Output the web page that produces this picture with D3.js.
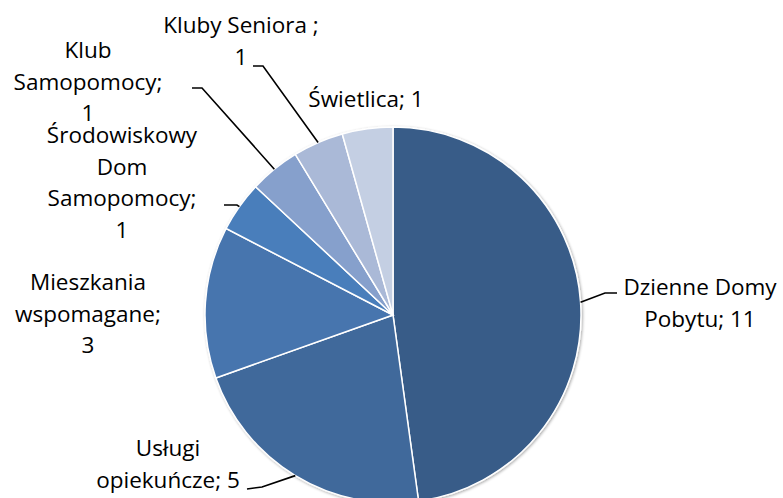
<!DOCTYPE html>
<html><head><meta charset="utf-8">
<script src="https://cdn.jsdelivr.net/npm/d3@7"></script>
<style>body{margin:0;background:#fff}svg{display:block}text{font-family:"Open Sans",sans-serif;fill:#000}</style>
</head><body>
<svg id="c" width="783" height="498"></svg>
<script>
const categories = ["Dzienne Domy Pobytu","Usługi opiekuńcze","Mieszkania wspomagane","Środowiskowy Dom Samopomocy","Klub Samopomocy","Kluby Seniora ","Świetlica"];
const values = [11,5,3,1,1,1,1];
const labelLines = [
  ["Dzienne Domy","Pobytu; 11"],
  ["Usługi","opiekuńcze; 5"],
  ["Mieszkania","wspomagane;","3"],
  ["Środowiskowy","Dom","Samopomocy;","1"],
  ["Klub","Samopomocy;","1"],
  ["Kluby Seniora ;","1"],
  ["Świetlica; 1"]
];
const colors = ["#375C88","#41699B","#4774AE","#4A7EBB","#86A0CC","#AAB9D7","#C4CFE3"];
// layout: label center x, first baseline y, leader elbow (x,y) or null
const labelLayout = [
  {x:700, y:295, elbow:[605,293], end:[617,293]},
  {x:168, y:456, elbow:[262,487], end:[247,489]},
  {x:88,  y:290, elbow:null},
  {x:122, y:143, elbow:[237,205], end:[224,205]},
  {x:88,  y:58,  elbow:[202,88],  end:[192,88]},
  {x:241, y:33,  elbow:[263,66],  end:[253,66]},
  {x:366, y:107, elbow:null}
];
const lineH = 31.5;

const svg = d3.select("#c");
const cx = 393, cy = 315, R = 188;
const g = svg.append("g").attr("transform",`translate(${cx},${cy})`);
const pie = d3.pie().sort(null).value(d=>d)(values);
const arc = d3.arc().innerRadius(0).outerRadius(R);

const defs = svg.append("defs");
const f = defs.append("filter").attr("id","sh").attr("x","-10%").attr("y","-10%").attr("width","120%").attr("height","120%");
f.append("feGaussianBlur").attr("in","SourceAlpha").attr("stdDeviation",1.5).attr("result","b");
f.append("feOffset").attr("in","b").attr("dx",0.5).attr("dy",0.5).attr("result","o");
f.append("feComponentTransfer").attr("in","o").attr("result","o2").append("feFuncA").attr("type","linear").attr("slope",0.35);
const m = f.append("feMerge"); m.append("feMergeNode").attr("in","o2"); m.append("feMergeNode").attr("in","SourceGraphic");

g.append("g").attr("filter","url(#sh)").selectAll("path").data(pie).join("path")
  .attr("d",arc).attr("fill",(d,i)=>colors[i]).attr("stroke","#fff").attr("stroke-width",1.5);

pie.forEach((d,i)=>{
  const L = labelLayout[i];
  const a = (d.startAngle+d.endAngle)/2;
  const px = cx + R*Math.sin(a), py = cy - R*Math.cos(a);
  if (L.elbow){
    svg.append("polyline").attr("points",`${px},${py} ${L.elbow[0]},${L.elbow[1]} ${L.end[0]},${L.end[1]}`)
      .attr("fill","none").attr("stroke","#000").attr("stroke-width",1.6);
  }
  const t = svg.append("text").attr("text-anchor","middle").attr("font-size",22.5);
  labelLines[i].forEach((s,k)=>{
    t.append("tspan").attr("x",L.x).attr("y",L.y+k*lineH).text(s);
  });
});
</script>
</body></html>
